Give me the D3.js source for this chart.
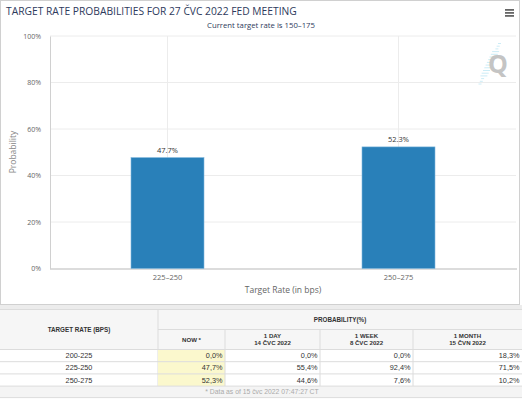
<!DOCTYPE html>
<html>
<head>
<meta charset="utf-8">
<script src="https://cdn.jsdelivr.net/npm/d3@7"></script>
<style>
  body { margin: 0; background: #fff; }
  svg { display: block; }
</style>
</head>
<body>
<svg id="chart"></svg>
<script>
// chart data
let categories = ["225\u2013250", "250\u2013275"];
let probabilities = [47.7, 52.3];
let yTicks = [0, 20, 40, 60, 80, 100];

// table data
let tableRates = ["200-225", "225-250", "250-275"];
let nowValues = [0.0, 47.7, 52.3];
let dayValues = [0.0, 55.4, 44.6];
let weekValues = [0.0, 92.4, 7.6];
let monthValues = [18.3, 71.5, 10.2];
let colHeads = [["NOW *"], ["1 DAY", "14 \u010cVC 2022"], ["1 WEEK", "8 \u010cVC 2022"], ["1 MONTH", "15 \u010cVN 2022"]];

let width = 522;
let height = 400;
let plot = {left: 52, right: 514, top: 36, bottom: 268.5};

let svg = d3.select("#chart").attr("width", width).attr("height", height);

let font = "'Open Sans', sans-serif";
let tfont = "'Liberation Sans', Arial, sans-serif";

// fit a text element to a given width by changing its font size
let fitText = (sel, w) => {
    let n = sel.node();
    let fs = parseFloat(sel.attr("font-size"));
    let cur = n.getComputedTextLength();
    if (cur > 0) sel.attr("font-size", (fs * w / cur).toFixed(2));
};

// chart frame
svg.append("rect").attr("x", 0.5).attr("y", 0.5).attr("width", 519).attr("height", 304)
    .attr("fill", "#fff").attr("stroke", "#d0d0d0");
svg.append("rect").attr("x", 0).attr("y", 305).attr("width", width).attr("height", 4).attr("fill", "#ececec");

// title
let title = svg.append("text").attr("x", 6).attr("y", 15)
    .attr("font-family", font).attr("font-size", 11).attr("fill", "#2e3a5c")
    .text("TARGET RATE PROBABILITIES FOR 27 \u010cVC 2022 FED MEETING");
fitText(title, 291);

let sub = svg.append("text").attr("x", 261).attr("y", 27.5).attr("text-anchor", "middle")
    .attr("font-family", font).attr("font-size", 8.5).attr("fill", "#2e3a5c")
    .text("Current target rate is 150\u2013175");
fitText(sub, 108);

// menu icon
[9, 12, 15].forEach(y => {
    svg.append("rect").attr("x", 505).attr("y", y).attr("width", 9).attr("height", 1.8).attr("fill", "#666");
});

// scales
let xScale = d3.scaleBand().domain(categories).range([plot.left, plot.right])
    .paddingInner(0.684).paddingOuter(0.342);
let yScale = d3.scaleLinear().domain([0, 100]).range([plot.bottom, plot.top]);

// horizontal grid
svg.append("g").selectAll("line").data(yTicks.slice(1)).enter().append("line")
    .attr("x1", 50).attr("x2", 516)
    .attr("y1", d => yScale(d)).attr("y2", d => yScale(d))
    .attr("stroke", "#ececec").attr("stroke-width", 1);

// vertical grid through category centres
svg.append("g").selectAll("line").data(categories).enter().append("line")
    .attr("x1", d => xScale(d) + xScale.bandwidth() / 2)
    .attr("x2", d => xScale(d) + xScale.bandwidth() / 2)
    .attr("y1", plot.top).attr("y2", plot.bottom)
    .attr("stroke", "#ececec").attr("stroke-width", 1);

// Q logo: light cyan streak behind a grey Q
let logo = svg.append("g");
for (let i = 0; i < 16; i++) {
    let y = 84 - i * 2.7;
    let cx = 480 + i * 1.3;
    let len = i < 3 || i > 12 ? 3 : 7;
    logo.append("line").attr("x1", cx - len / 2).attr("x2", cx + len / 2)
        .attr("y1", y).attr("y2", y)
        .attr("stroke", "#c6eaf5").attr("stroke-width", 0.9);
}
logo.append("text").attr("x", 498).attr("y", 73).attr("text-anchor", "middle")
    .attr("font-family", font).attr("font-weight", "bold").attr("font-size", 25)
    .attr("fill", "#c4c4c4").text("Q");

// axes
let yAxis = d3.axisLeft(yScale).tickValues(yTicks).tickFormat(d => d + "%").tickSize(0).tickPadding(9);
let yG = svg.append("g").attr("transform", "translate(50,0)").call(yAxis);
yG.select(".domain").attr("stroke", "#d0d0d0");
yG.selectAll("text").attr("font-family", font).attr("font-size", 7).attr("fill", "#666");

let xAxis = d3.axisBottom(xScale).tickSize(0).tickPadding(6);
let xG = svg.append("g").attr("transform", "translate(0," + plot.bottom + ")").call(xAxis);
xG.select(".domain").attr("d", "M50,0.5H517").attr("stroke", "#d0d0d0").attr("stroke-width", 1.5);
xG.selectAll("text").attr("font-family", font).attr("font-size", 7.5).attr("fill", "#666");

// bars
svg.append("g").selectAll("rect").data(probabilities).enter().append("rect")
    .attr("x", (d, i) => xScale(categories[i]))
    .attr("y", d => yScale(d))
    .attr("width", xScale.bandwidth())
    .attr("height", d => plot.bottom - yScale(d))
    .attr("fill", "#2980b9").attr("stroke", "#7fb6dc").attr("stroke-width", 0.6);

svg.append("g").selectAll("text").data(probabilities).enter().append("text")
    .attr("x", (d, i) => xScale(categories[i]) + xScale.bandwidth() / 2)
    .attr("y", d => yScale(d) - 4.5)
    .attr("text-anchor", "middle")
    .attr("font-family", font).attr("font-size", 7.5).attr("fill", "#333")
    .text(d => d.toFixed(1) + "%");

// axis titles
svg.append("text").attr("x", 283).attr("y", 293).attr("text-anchor", "middle")
    .attr("font-family", font).attr("font-size", 8.5).attr("fill", "#666")
    .text("Target Rate (in bps)");
svg.append("text").attr("transform", "translate(16,152) rotate(-90)").attr("text-anchor", "middle")
    .attr("font-family", font).attr("font-size", 8.5).attr("fill", "#888")
    .text("Probability");

// table
let cols = [0, 158, 225, 320, 413, 522];
let hTop = 309.5, hMid = 329.5, hBot = 349.5, rowH = 12.2;
let tbl = svg.append("g");
let fmt = v => v.toFixed(1).replace(".", ",") + "%";

tbl.append("rect").attr("x", 0).attr("y", hTop).attr("width", width).attr("height", hBot - hTop).attr("fill", "#f6f6f6");

// header borders
let lineC = "#dcdcdc";
tbl.append("line").attr("x1", 0).attr("x2", width).attr("y1", hTop).attr("y2", hTop).attr("stroke", lineC);
tbl.append("line").attr("x1", cols[1]).attr("x2", width).attr("y1", hMid).attr("y2", hMid).attr("stroke", lineC);
tbl.append("line").attr("x1", cols[1]).attr("x2", cols[1]).attr("y1", hTop).attr("y2", hBot + 3 * rowH).attr("stroke", lineC);
cols.slice(2, 5).forEach(x => {
    tbl.append("line").attr("x1", x).attr("x2", x).attr("y1", hMid).attr("y2", hBot).attr("stroke", lineC);
});

tbl.append("text").attr("x", cols[1] / 2).attr("y", hMid + 2.5).attr("text-anchor", "middle")
    .attr("font-family", tfont).attr("font-weight", "bold").attr("font-size", 6.3).attr("fill", "#333")
    .text("TARGET RATE (BPS)");
tbl.append("text").attr("x", (cols[1] + width) / 2).attr("y", (hTop + hMid) / 2 + 2.5).attr("text-anchor", "middle")
    .attr("font-family", tfont).attr("font-weight", "bold").attr("font-size", 6.3).attr("fill", "#333")
    .text("PROBABILITY(%)");
colHeads.forEach((lines, i) => {
    let cx = (cols[i + 1] + cols[i + 2]) / 2;
    let y0 = (hMid + hBot) / 2 + 2.3 - (lines.length - 1) * 3.6;
    lines.forEach((t, j) => {
        tbl.append("text").attr("x", cx).attr("y", y0 + j * 7.2).attr("text-anchor", "middle")
            .attr("font-family", tfont).attr("font-weight", "bold").attr("font-size", 6.1).attr("fill", "#333")
            .text(t);
    });
});

let series = [nowValues, dayValues, weekValues, monthValues];
tableRates.forEach((r, i) => {
    let y = hBot + i * rowH;
    tbl.append("rect").attr("x", cols[1]).attr("y", y).attr("width", cols[2] - cols[1]).attr("height", rowH)
        .attr("fill", "#fbf8cd");
    tbl.append("line").attr("x1", 0).attr("x2", width).attr("y1", y).attr("y2", y).attr("stroke", lineC);
    tbl.append("text").attr("x", cols[1] / 2).attr("y", y + 8.7).attr("text-anchor", "middle")
        .attr("font-family", tfont).attr("font-size", 7.3).attr("fill", "#333").text(r);
    series.forEach((s, k) => {
        tbl.append("text").attr("x", cols[k + 2] - 2.5).attr("y", y + 8.7).attr("text-anchor", "end")
            .attr("font-family", tfont).attr("font-size", 7.3).attr("fill", "#333").text(fmt(s[i]));
    });
});
cols.slice(2, 5).forEach(x => {
    tbl.append("line").attr("x1", x).attr("x2", x).attr("y1", hBot).attr("y2", hBot + 3 * rowH).attr("stroke", lineC);
});

let fy = hBot + 3 * rowH;
tbl.append("rect").attr("x", 0).attr("y", fy).attr("width", width).attr("height", 11.5).attr("fill", "#f4f4f4");
tbl.append("line").attr("x1", 0).attr("x2", width).attr("y1", fy).attr("y2", fy).attr("stroke", lineC);
tbl.append("line").attr("x1", 0).attr("x2", width).attr("y1", fy + 11.5).attr("y2", fy + 11.5).attr("stroke", lineC);
tbl.append("text").attr("x", 262).attr("y", fy + 8.3).attr("text-anchor", "middle")
    .attr("font-family", tfont).attr("font-size", 6.8).attr("fill", "#aaa")
    .text("* Data as of 15 \u010dvc 2022 07:47:27 CT");
</script>
</body>
</html>
